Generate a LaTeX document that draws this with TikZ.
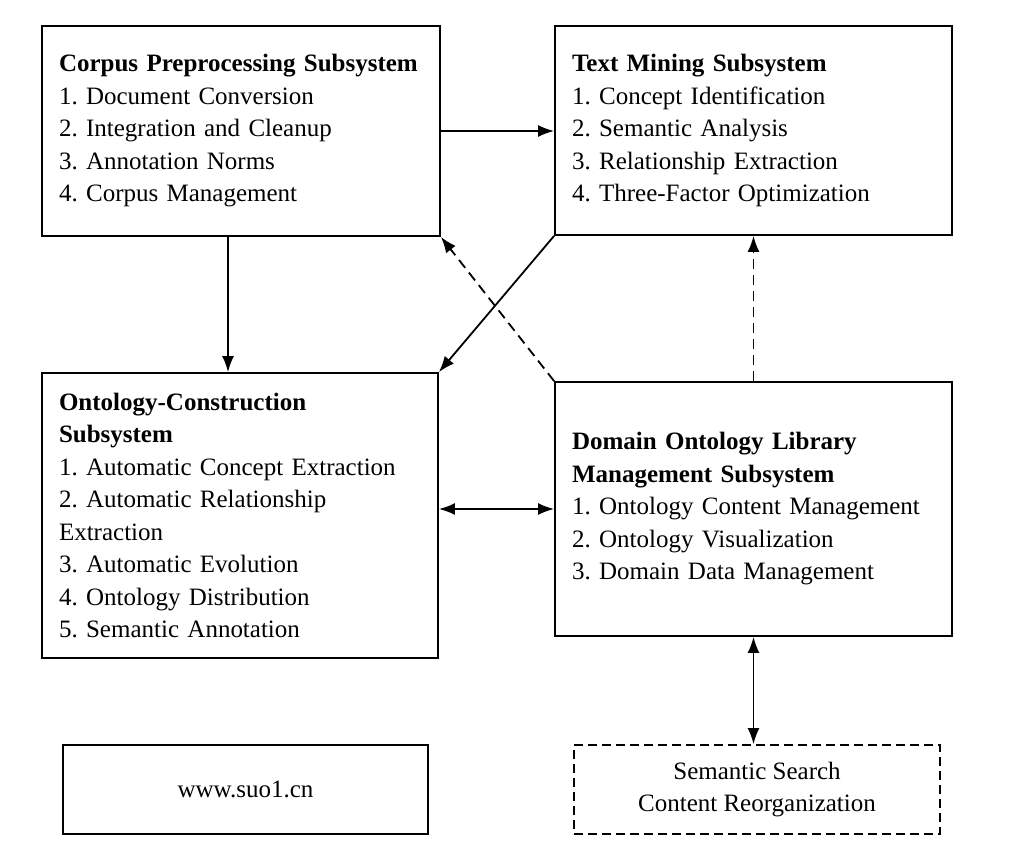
\documentclass[tikz,border=0pt]{standalone}
\usepackage{fontspec}
\setmainfont{Liberation Serif}
\usepackage{xcolor}
\usetikzlibrary{arrows.meta}
\frenchspacing

\begin{document}
\begin{tikzpicture}[x=1pt, y=-1pt,
    >={Latex[length=16pt,width=12pt]},
    line width=1.8pt,
    box/.style={draw, rectangle, align=left, inner xsep=17pt, inner ysep=0pt,
        font=\fontsize{25}{32.5}\selectfont},
    dashbox/.style={box, align=center, dash pattern=on 9pt off 5pt},
    dashline/.style={dash pattern=on 10pt off 6pt}]
    \useasboundingbox (0,0) rectangle (1031,848);

    % Subsystem boxes
    \node[box, minimum width=398, minimum height=210, text width=364] (Corpus) at (241,131)
        {\textbf{Corpus Preprocessing Subsystem}\\1. Document Conversion\\2. Integration and Cleanup\\3. Annotation Norms\\4. Corpus Management};
    \node[box, minimum width=397, minimum height=209, text width=363] (Mining) at (753.5,130.5)
        {\textbf{Text Mining Subsystem}\\1. Concept Identification\\2. Semantic Analysis\\3. Relationship Extraction\\4. Three-Factor Optimization};
    \node[box, minimum width=396, minimum height=285, text width=362] (Construct) at (240,515.5)
        {\textbf{Ontology-Construction}\\\textbf{Subsystem}\\1. Automatic Concept Extraction\\2. Automatic Relationship\\Extraction\\3. Automatic Evolution\\4. Ontology Distribution\\5. Semantic Annotation};
    \node[box, minimum width=397, minimum height=254, text width=363] (Library) at (753.5,509)
        {\textbf{Domain Ontology Library}\\\textbf{Management Subsystem}\\1. Ontology Content Management\\2. Ontology Visualization\\3. Domain Data Management};

    % Bottom boxes
    \node[box, align=center, minimum width=365, minimum height=89] (Site) at (245.5,789.5) {www.suo1.cn};
    \node[dashbox, minimum width=366, minimum height=89] (Search) at (757,789.5)
        {Semantic Search\\Content Reorganization};

    % Connections
    \draw[->] (Corpus.east) -- (Corpus.east -| Mining.west);
    \draw[->] ([xshift=-13pt]Corpus.south) -- ([xshift=-12pt]Construct.north);
    \draw[->] (Mining.south west) -- (Construct.north east);
    \draw[->, dashline] (Library.north west) -- (Corpus.south east);
    \draw[->, dashline] (Library.north) -- (Mining.south);
    \draw[<->] (Library.west -| Construct.east) -- (Library.west);
    \draw[<->] (Library.south) -- (Library.south |- Search.north);

\end{tikzpicture}
\end{document}
